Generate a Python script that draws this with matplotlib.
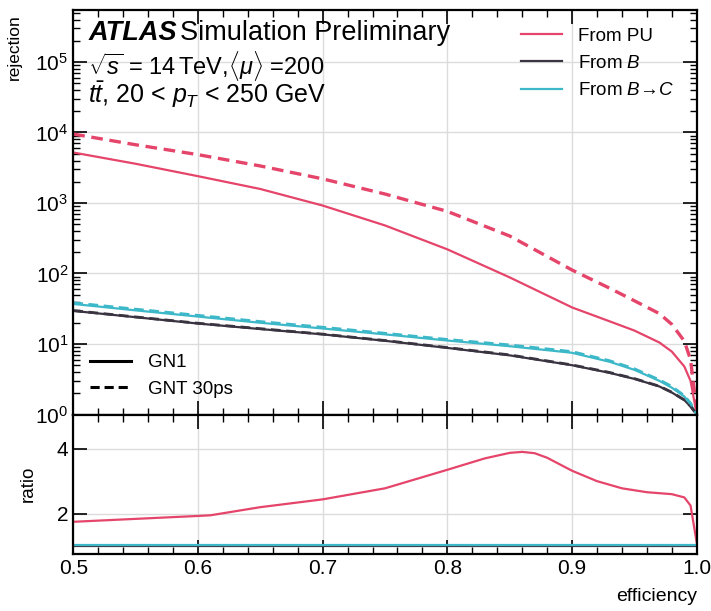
import matplotlib
matplotlib.use("Agg")
import matplotlib.pyplot as plt
from matplotlib.lines import Line2D
from matplotlib.ticker import MultipleLocator, LogLocator, NullFormatter

plt.rcParams['font.family'] = ['Liberation Sans', 'DejaVu Sans']
plt.rcParams['mathtext.fontset'] = 'custom'
plt.rcParams['mathtext.rm'] = 'Liberation Sans'
plt.rcParams['mathtext.it'] = 'Liberation Sans:italic'
plt.rcParams['mathtext.bf'] = 'Liberation Sans:bold'

# efficiency points
eff = [0.5, 0.55, 0.6, 0.65, 0.7, 0.75, 0.8, 0.85, 0.9, 0.93, 0.95, 0.97, 0.98, 0.99, 0.995, 1.0]

# rejection, GN1 (solid) and GNT 30ps (dashed)
pu_gn1 = [5200, 3600, 2400, 1580, 920, 480, 220, 88, 33, 21, 15.5, 10.5, 7.8, 4.8, 3.0, 1.0]
pu_gnt = [9500, 6700, 4850, 3350, 2200, 1340, 760, 340, 112, 62, 41, 27, 19, 11, 6.0, 1.1]
b_gn1 = [29.5, 24, 19.5, 16.3, 13.7, 11.1, 8.8, 6.9, 5.0, 3.9, 3.2, 2.5, 2.05, 1.6, 1.3, 1.0]
b_gnt = [29.8, 24.2, 19.7, 16.5, 13.8, 11.2, 8.9, 7.0, 5.05, 3.95, 3.23, 2.52, 2.07, 1.61, 1.31, 1.0]
bc_gn1 = [37, 30, 24.5, 20, 16.6, 13.7, 11.2, 9.3, 7.5, 5.6, 4.3, 3.0, 2.4, 1.8, 1.4, 1.0]
bc_gnt = [38.5, 31.2, 25.5, 20.8, 17.3, 14.2, 11.6, 9.7, 7.8, 5.8, 4.45, 3.1, 2.5, 1.85, 1.45, 1.0]

# ratio panel (GNT / GN1)
ratio_eff = [0.5, 0.55, 0.6, 0.61, 0.65, 0.7, 0.75, 0.8, 0.83, 0.85, 0.86, 0.87, 0.88,
             0.9, 0.92, 0.94, 0.96, 0.98, 0.99, 0.995, 1.0]
ratio_pu = [1.75, 1.84, 1.93, 1.95, 2.2, 2.44, 2.78, 3.35, 3.7, 3.87, 3.9, 3.86, 3.72,
            3.32, 3.0, 2.78, 2.66, 2.6, 2.5, 2.25, 1.1]
ratio_b = [1.0] * len(ratio_eff)
ratio_bc = [1.04] * len(ratio_eff)

c_pu = '#e5456a'
c_b = '#3a3441'
c_bc = '#3cb8c8'
grid_c = '#dcdcdc'

fig = plt.figure(figsize=(7.11, 6.11), dpi=100)
ax = fig.add_axes([0.103, 0.3216, 0.877, 0.6624])
rx = fig.add_axes([0.103, 0.0933, 0.877, 0.2283], sharex=ax)

lw = 1.6
ax.plot(eff, pu_gn1, color=c_pu, lw=lw)
ax.plot(eff, b_gn1, color=c_b, lw=lw)
ax.plot(eff, bc_gn1, color=c_bc, lw=lw)
ax.plot(eff, pu_gnt, color=c_pu, lw=2.4, dashes=(3.5, 2))
ax.plot(eff, b_gnt, color=c_b, lw=2.0, dashes=(3.5, 2))
ax.plot(eff, bc_gnt, color=c_bc, lw=2.0, dashes=(3.5, 2))

rx.plot(ratio_eff, ratio_pu, color=c_pu, lw=lw)
rx.plot(ratio_eff, ratio_b, color=c_b, lw=lw)
rx.plot(ratio_eff, ratio_bc, color=c_bc, lw=lw)

ax.set_yscale('log')
ax.set_ylim(1, 5.5e5)
ax.set_xlim(0.5, 1.0)
rx.set_ylim(0.76, 5.05)
rx.set_yticks([2, 4])
rx.xaxis.set_major_locator(MultipleLocator(0.1))
rx.xaxis.set_minor_locator(MultipleLocator(0.02))
ax.yaxis.set_major_locator(LogLocator(base=10, numticks=10))
ax.yaxis.set_minor_locator(LogLocator(base=10, subs=range(2, 10), numticks=20))
ax.yaxis.set_minor_formatter(NullFormatter())

for a in (ax, rx):
    a.grid(True, which='major', color=grid_c, lw=1.0)
    a.set_axisbelow(True)
    a.tick_params(which='both', direction='in', top=True, right=True, labelsize=15)
    a.tick_params(which='major', length=10, width=1.2)
    a.tick_params(which='minor', length=5, width=1.0)
    for s in a.spines.values():
        s.set_linewidth(1.6)
ax.tick_params(labelbottom=False)

ax.set_ylabel('rejection', fontsize=12.5, loc='top')
rx.set_ylabel('ratio', fontsize=13.5)
rx.set_xlabel('efficiency', fontsize=14, loc='right', labelpad=7)
ax.yaxis.set_label_coords(-0.083, 0.99)
rx.yaxis.set_label_coords(-0.058, 0.5)

# labels
ax.text(0.024, 0.926, 'ATLAS', transform=ax.transAxes, fontsize=19.5,
        fontweight='bold', fontstyle='italic', va='baseline')
ax.text(0.171, 0.926, 'Simulation Preliminary', transform=ax.transAxes,
        fontsize=19.5, va='baseline')
ax.text(0.024, 0.838, r'$\sqrt{s}$ = 14$\,$TeV,$\langle\mu\rangle$ =200',
        transform=ax.transAxes, fontsize=17, va='baseline')
ax.text(0.024, 0.769, r'$t\bar{t}$, 20 < $p_T$ < 250 GeV',
        transform=ax.transAxes, fontsize=18, va='baseline')

h1 = [Line2D([], [], color=c_pu, lw=lw),
      Line2D([], [], color=c_b, lw=lw),
      Line2D([], [], color=c_bc, lw=lw)]
leg1 = ax.legend(h1, ['From PU', r'From $B$', r'From $B$→$C$'],
                 loc='upper right', frameon=False, fontsize=13.5,
                 handlelength=2.2, handletextpad=0.85, labelspacing=0.55,
                 bbox_to_anchor=(0.99, 0.998))
ax.add_artist(leg1)
h2 = [Line2D([], [], color='black', lw=2.2),
      Line2D([], [], color='black', lw=2.2, dashes=(3, 1.6))]
ax.legend(h2, ['GN1', 'GNT 30ps'], loc='lower left', frameon=False, fontsize=13.5,
          handlelength=2.2, handletextpad=0.9, labelspacing=0.5,
          bbox_to_anchor=(0.0, 0.0))

fig.savefig('out.png', dpi=100)
